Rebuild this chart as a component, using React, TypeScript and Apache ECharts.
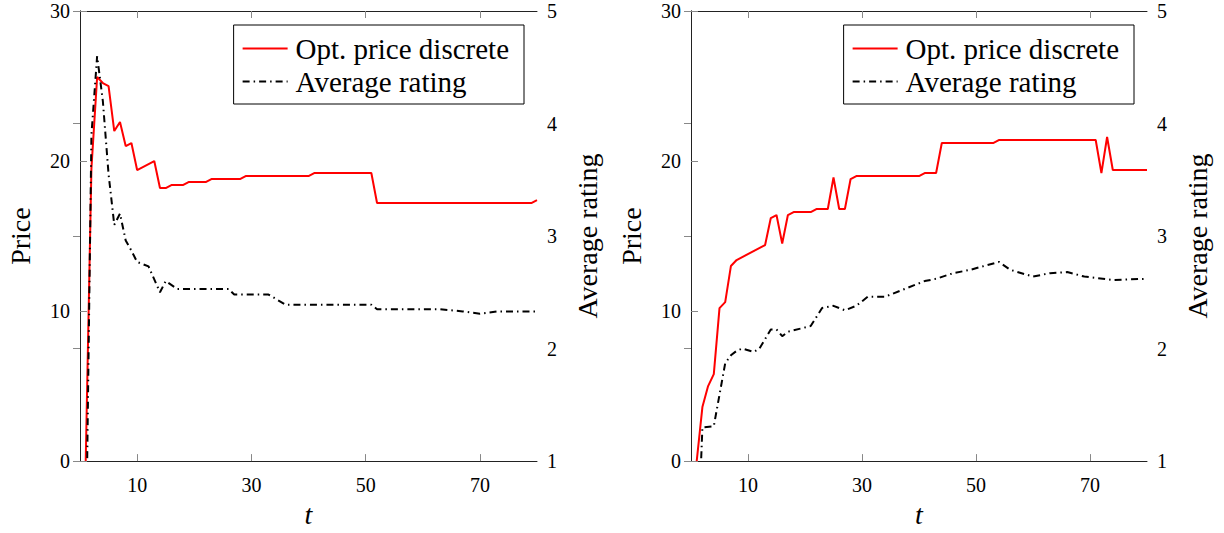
import React, { useEffect, useRef } from "react";
import * as echarts from "echarts";

const SERIES_PRICE = "Opt. price discrete";
const SERIES_RATING = "Average rating";
const X_TICKS = [10, 30, 50, 70];

// Left panel
const leftPriceT = [1, 2, 3, 4, 5, 6, 7, 8, 9, 10, 13, 14, 15, 16, 18, 19, 22, 23, 28, 29, 40, 41, 51, 52, 79, 80];
const leftPriceV = [0, 19.5, 25.6, 25.2, 25.0, 22.0, 22.6, 21.0, 21.2, 19.4, 20.0, 18.2, 18.2, 18.4, 18.4, 18.6, 18.6, 18.8, 18.8, 19.0, 19.0, 19.2, 19.2, 17.2, 17.2, 17.4];
const leftRatingT = [1, 2, 3, 4, 5, 6, 7, 8, 9, 10, 12, 14, 15, 17, 26, 27, 33, 36, 51, 52, 63, 67, 70, 73, 80];
const leftRatingV = [0, 3.9, 4.6, 4.2, 3.55, 3.1, 3.2, 2.96, 2.87, 2.77, 2.73, 2.5, 2.6, 2.53, 2.53, 2.48, 2.48, 2.39, 2.39, 2.35, 2.35, 2.33, 2.31, 2.33, 2.33];

// Right panel
const rightPriceT = [1, 2, 3, 4, 5, 6, 7, 8, 13, 14, 15, 16, 17, 18, 21, 22, 24, 25, 26, 27, 28, 29, 40, 41, 43, 44, 53, 54, 71, 72, 73, 74, 80];
const rightPriceV = [0, 3.6, 5.0, 5.8, 10.2, 10.6, 13.0, 13.4, 14.4, 16.2, 16.4, 14.5, 16.4, 16.6, 16.6, 16.8, 16.8, 18.9, 16.8, 16.8, 18.8, 19.0, 19.0, 19.2, 19.2, 21.2, 21.2, 21.4, 21.4, 19.2, 21.6, 19.4, 19.4];
const rightRatingT = [1, 2, 4, 5, 6, 7, 8, 9, 11, 12, 14, 15, 16, 17, 21, 23, 25, 27, 29, 31, 34, 37, 41, 43, 46, 49, 54, 56, 60, 63, 66, 69, 74, 80];
const rightRatingV = [0, 1.3, 1.31, 1.59, 1.87, 1.94, 1.98, 2.0, 1.97, 2.0, 2.17, 2.17, 2.11, 2.15, 2.2, 2.36, 2.38, 2.34, 2.38, 2.46, 2.46, 2.52, 2.6, 2.62, 2.67, 2.7, 2.77, 2.7, 2.64, 2.67, 2.68, 2.64, 2.61, 2.62];

const FONT = "Liberation Serif";
const zip = (a: number[], b: number[]) => a.map((t, i) => [t, b[i]]);

function buildOption() {
  const grids = [
    { left: 80, top: 11, width: 457, height: 456 },
    { left: 691, top: 11, width: 456, height: 456 },
  ];
  const axisLine = { show: true, lineStyle: { color: "#222", width: 1 } };
  const tickStyle = { color: "#888", width: 1 };
  const xAxis: any[] = [];
  const yAxis: any[] = [];
  grids.forEach((_, g) => {
    xAxis.push({
      type: "value", gridIndex: g, min: 0, max: 80, position: "bottom",
      axisLine,
      axisTick: { show: true, inside: true, length: 7, lineStyle: tickStyle, customValues: X_TICKS },
      axisLabel: { show: true, customValues: X_TICKS, color: "#000", fontFamily: FONT, fontSize: 20, margin: 14 },
      splitLine: { show: false },
      name: "t", nameLocation: "middle", nameGap: 38,
      nameTextStyle: { fontFamily: FONT, fontSize: 28, fontStyle: "italic", color: "#000" },
    });
    xAxis.push({
      type: "value", gridIndex: g, min: 0, max: 80, position: "top",
      axisLine,
      axisTick: { show: true, inside: true, length: 7, lineStyle: tickStyle, customValues: X_TICKS },
      axisLabel: { show: false },
      splitLine: { show: false },
    });
    yAxis.push({
      type: "value", gridIndex: g, min: 0, max: 30, interval: 10, position: "left",
      axisLine,
      axisTick: { show: true, inside: true, length: 7, lineStyle: tickStyle },
      axisLabel: { color: "#000", fontFamily: FONT, fontSize: 20, margin: 10 },
      splitLine: { show: false },
      name: "Price", nameLocation: "middle", nameGap: 46, nameRotate: 90,
      nameTextStyle: { fontFamily: FONT, fontSize: 28, color: "#000" },
    });
    yAxis.push({
      type: "value", gridIndex: g, min: 1, max: 5, interval: 1, position: "right",
      axisLine,
      axisTick: { show: true, inside: true, length: 7, lineStyle: tickStyle },
      axisLabel: { color: "#000", fontFamily: FONT, fontSize: 20, margin: 10 },
      splitLine: { show: false },
      name: "Average rating", nameLocation: "middle", nameGap: 36, nameRotate: 90,
      nameTextStyle: { fontFamily: FONT, fontSize: 28, color: "#000" },
    });
  });

  const priceLine = { color: "#ff0000", width: 2 };
  const ratingLine = { color: "#000", width: 2, type: [7, 4, 1.5, 4] };
  const mk = (name: string, xi: number, yi: number, data: number[][], ls: any) => ({
    type: "line", name, xAxisIndex: xi, yAxisIndex: yi, data, symbol: "none",
    lineStyle: ls, itemStyle: { color: ls.color }, clip: true,
  });
  const series = [
    mk(SERIES_PRICE, 0, 0, zip(leftPriceT, leftPriceV), priceLine),
    mk(SERIES_RATING, 0, 1, zip(leftRatingT, leftRatingV), ratingLine),
    mk(SERIES_PRICE, 2, 2, zip(rightPriceT, rightPriceV), priceLine),
    mk(SERIES_RATING, 2, 3, zip(rightRatingT, rightRatingV), ratingLine),
  ];

  const legendBase = {
    orient: "vertical", top: 25, data: [SERIES_PRICE, SERIES_RATING],
    itemWidth: 45, itemHeight: 14, itemGap: 4, padding: [9, 15, 8, 8],
    borderColor: "#000", borderWidth: 1, backgroundColor: "#fff", selectedMode: false,
    itemStyle: { opacity: 0, borderWidth: 0 },
    textStyle: { fontFamily: FONT, fontSize: 29, color: "#000", padding: [0, 0, 0, 3] },
  };
  return {
    animation: false,
    backgroundColor: "#fff",
    grid: grids,
    xAxis, yAxis, series,
    legend: [
      { ...legendBase, right: 700 },
      { ...legendBase, right: 90 },
    ],
  };
}

export default function App() {
  const ref = useRef<HTMLDivElement>(null);
  useEffect(() => {
    if (!ref.current) return;
    const chart = echarts.init(ref.current, null, { renderer: "svg" });
    chart.setOption(buildOption() as any);
    return () => chart.dispose();
  }, []);
  return (
    <div
      ref={ref}
      style={{ position: "fixed", left: 0, top: 0, width: 1224, height: 533, background: "#fff" }}
    />
  );
}
